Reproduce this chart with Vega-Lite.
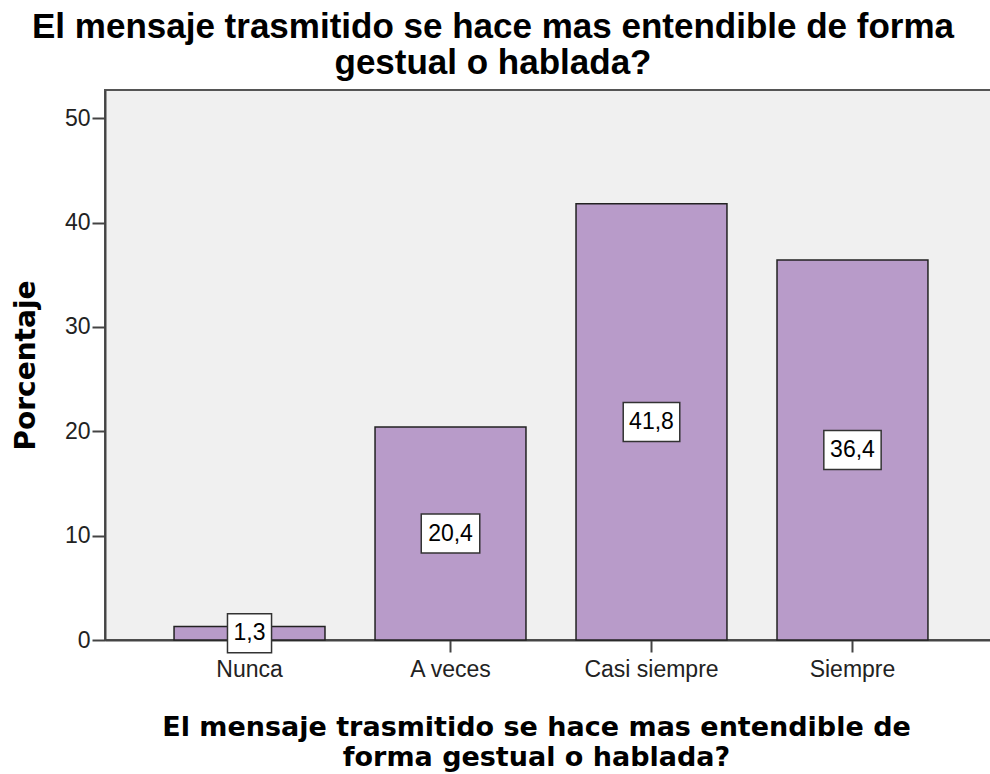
{
  "$schema": "https://vega.github.io/schema/vega-lite/v6.json",
  "width": 892,
  "height": 550,
  "autosize": {"type": "none"},
  "padding": {"left": 105, "top": 90, "right": 0, "bottom": 134},
  "background": "white",
  "title": {
    "text": ["El mensaje trasmitido se hace mas entendible de forma", "gestual o hablada?"],
    "font": "Liberation Sans",
    "fontWeight": "bold",
    "fontSize": 35,
    "lineHeight": 36,
    "color": "black",
    "anchor": "middle",
    "dx": -58,
    "offset": 9
  },
  "config": {
    "locale": {"number": {"decimal": ",", "thousands": ".", "grouping": [3], "currency": ["", " €"]}},
    "view": {"fill": "#f0f0f0", "stroke": "#555555", "strokeWidth": 2}
  },
  "data": {
    "values": [
      {"Categoria": "Nunca", "Porcentaje": 1.3},
      {"Categoria": "A veces", "Porcentaje": 20.4},
      {"Categoria": "Casi siempre", "Porcentaje": 41.8},
      {"Categoria": "Siempre", "Porcentaje": 36.4}
    ]
  },
  "encoding": {
    "x": {
      "field": "Categoria",
      "type": "nominal",
      "sort": ["Nunca", "A veces", "Casi siempre", "Siempre"],
      "scale": {"paddingInner": 0.249, "paddingOuter": 0.3435},
      "axis": {
        "title": ["El mensaje trasmitido se hace mas entendible de", "forma gestual o hablada?"],
        "titleFont": "DejaVu Sans",
        "titleFontWeight": "bold",
        "titleFontSize": 27,
        "titleColor": "black",
        "titleLineHeight": 30,
        "titleX": 431,
        "titleY": 95,
        "titleAlign": "center",
        "titleBaseline": "alphabetic",
        "labelFont": "Liberation Sans",
        "labelFontSize": 23,
        "labelColor": "#222222",
        "labelAngle": 0,
        "labelPadding": 6,
        "tickSize": 12,
        "tickWidth": 2,
        "tickColor": "#444444",
        "domainColor": "#444444",
        "domainWidth": 2,
        "grid": false
      }
    }
  },
  "layer": [
    {
      "mark": {"type": "bar", "fill": "#b89bc9", "stroke": "#222222", "strokeWidth": 1.5},
      "encoding": {
        "y": {
          "field": "Porcentaje",
          "type": "quantitative",
          "scale": {"domain": [0, 52.7], "nice": false},
          "axis": {
            "title": "Porcentaje",
            "titleFont": "DejaVu Sans",
            "titleFontWeight": "bold",
            "titleFontSize": 28,
            "titleColor": "black",
            "titleAngle": -90,
            "titleX": -71,
            "titleY": 275,
            "titleAlign": "center",
            "titleBaseline": "alphabetic",
            "values": [0, 10, 20, 30, 40, 50],
            "labelFont": "Liberation Sans",
            "labelFontSize": 23,
            "labelColor": "#222222",
            "labelPadding": 2,
            "tickSize": 13,
            "tickWidth": 2,
            "tickColor": "#444444",
            "domainColor": "#444444",
            "domainWidth": 2,
            "grid": false
          }
        }
      }
    },
    {
      "mark": {"type": "point", "filled": true, "fill": "white", "stroke": "#333333", "strokeWidth": 1.5, "opacity": 1, "size": 1521},
      "encoding": {
        "y": {"field": "Porcentaje", "type": "quantitative", "scale": {"domain": [0, 105.4], "nice": false}, "axis": null},
        "shape": {
          "field": "Categoria",
          "type": "nominal",
          "scale": {
            "domain": ["Nunca", "A veces", "Casi siempre", "Siempre"],
            "range": ["M-1.13,-1L1.13,-1L1.13,1L-1.13,1Z", "M-1.5,-1L1.5,-1L1.5,1L-1.5,1Z", "M-1.45,-1L1.45,-1L1.45,1L-1.45,1Z", "M-1.47,-1L1.47,-1L1.47,1L-1.47,1Z"]
          },
          "legend": null
        }
      }
    },
    {
      "mark": {"type": "text", "font": "Liberation Sans", "fontSize": 23, "color": "black", "baseline": "middle", "align": "center"},
      "encoding": {
        "y": {"field": "Porcentaje", "type": "quantitative", "scale": {"domain": [0, 105.4], "nice": false}, "axis": null},
        "text": {"field": "Porcentaje", "type": "quantitative", "format": ".1f"}
      }
    }
  ],
  "resolve": {"scale": {"y": "independent", "shape": "independent"}}
}
